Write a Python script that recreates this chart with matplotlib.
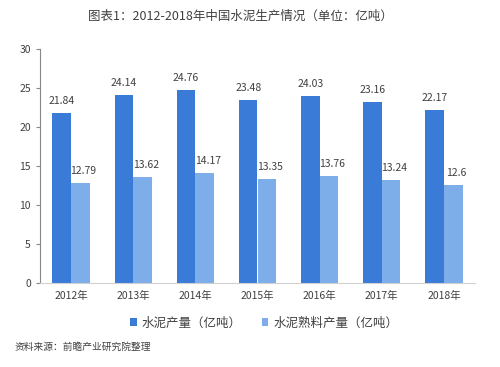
import matplotlib
matplotlib.use("Agg")
import matplotlib.pyplot as plt
import numpy as np

plt.rcParams['font.family'] = ['Noto Sans CJK SC', 'DejaVu Sans']

years = ["2012年", "2013年", "2014年", "2015年", "2016年", "2017年", "2018年"]
cement = [21.84, 24.14, 24.76, 23.48, 24.03, 23.16, 22.17]
clinker = [12.79, 13.62, 14.17, 13.35, 13.76, 13.24, 12.6]
cement_labels = ["21.84", "24.14", "24.76", "23.48", "24.03", "23.16", "22.17"]
clinker_labels = ["12.79", "13.62", "14.17", "13.35", "13.76", "13.24", "12.6"]
series_names = ["水泥产量（亿吨）", "水泥熟料产量（亿吨）"]
title = "图表1：2012-2018年中国水泥生产情况（单位：亿吨）"
source = "资料来源：前瞻产业研究院整理"

c_dark = "#3A7BD8"
c_light = "#7DAEEA"
txt = "#404040"

fig = plt.figure(figsize=(5, 3.67), dpi=100)
ax = fig.add_axes([0.08, 0.229, 0.87, 0.637])

x = np.arange(len(years))
w = 0.3
b1 = ax.bar(x - w/2, cement, w, color=c_dark, label=series_names[0])
b2 = ax.bar(x + w/2, clinker, w, color=c_light, label=series_names[1])

for xi, v, s in zip(x, cement, cement_labels):
    ax.text(xi - w/2, v + 0.9, s, ha='center', va='bottom', fontsize=7.5, color=txt)
for xi, v, s in zip(x, clinker, clinker_labels):
    ax.text(xi + w/2 + 0.05, v + 0.9, s, ha='center', va='bottom', fontsize=7.5, color=txt)

ax.set_xlim(-0.5, len(years) - 0.5)
ax.set_ylim(0, 30)
ax.set_yticks([0, 5, 10, 15, 20, 25, 30])
ax.set_xticks(x)
ax.set_xticklabels(years)
ax.tick_params(axis='y', labelsize=7.5, colors=txt, length=3, color="#888888", width=0.8)
ax.tick_params(axis='x', labelsize=7.5, colors=txt, length=0, pad=6)
for sp in ['top', 'right']:
    ax.spines[sp].set_visible(False)
ax.spines['left'].set_color("#888888")
ax.spines['bottom'].set_color("#d0d0d0")

fig.text(0.48, 0.955, title, ha='center', va='center', fontsize=9, color=txt)

ax.legend(handles=[b1, b2], loc='upper center', bbox_to_anchor=(0.515, -0.095),
          ncol=2, frameon=False, fontsize=9, handlelength=0.55, handleheight=0.55,
          columnspacing=1.6, handletextpad=0.4, labelcolor=txt)

fig.text(0.03, 0.055, source, ha='left', va='center', fontsize=7, color=txt, style='italic')

fig.savefig("out.png", dpi=100)
